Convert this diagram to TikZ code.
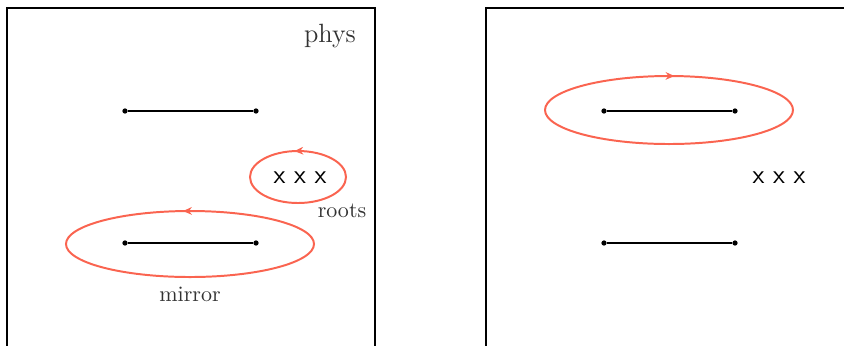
\documentclass[tikz,border=0pt]{standalone}
\usetikzlibrary{decorations.markings,arrows.meta}
\definecolor{loopred}{RGB}{250,100,80}
\definecolor{txt}{RGB}{50,50,50}
\begin{document}
\begin{tikzpicture}[x=0.4545pt,y=0.4545pt,
  frame/.style={draw,line width=0.6pt},
  seg/.style={draw,line width=0.6pt},
  dotp/.style={circle,fill,inner sep=0pt,minimum size=2.4pt},
  loopl/.style={draw=loopred,line width=0.9pt,postaction={decorate},
    decoration={markings,mark=at position #1 with {\arrow{Stealth[length=4pt,width=3.5pt]}}}},
  loopr/.style={draw=loopred,line width=0.9pt,postaction={decorate},
    decoration={markings,mark=at position #1 with {\arrowreversed{Stealth[length=4pt,width=3.5pt]}}}},
  lbl/.style={text=txt,font=\normalsize,inner sep=0pt},
  roots/.style={font=\large\sffamily,inner sep=0pt},
]
\useasboundingbox (0,0) rectangle (844,-345);
% frames
\draw[frame] (7,-8) rectangle (375,-370);
\draw[frame] (486,-8) rectangle (870,-370);
% left panel
\node[dotp] (a1) at (125,-111) {};
\node[dotp] (a2) at (256,-111) {};
\node[dotp] (b1) at (125,-243) {};
\node[dotp] (b2) at (256,-243) {};
\draw[seg] (a1) -- (a2);
\draw[seg] (b1) -- (b2);
\path[loopl=0.263] (190,-244) ellipse [x radius=124, y radius=33];
\path[loopl=0.265] (298,-177) ellipse [x radius=48, y radius=26];
\node[roots] (r1) at (300,-178) {x x x};
\node[lbl] (lroots) at (342,-211) {roots};
\node[lbl] (lmirror) at (190,-294) {mirror};
\node[lbl,font=\large] (lphys) at (330,-36) {phys};
% right panel
\node[dotp] (c1) at (604,-111) {};
\node[dotp] (c2) at (735,-111) {};
\node[dotp] (d1) at (604,-243) {};
\node[dotp] (d2) at (735,-243) {};
\draw[seg] (c1) -- (c2);
\draw[seg] (d1) -- (d2);
\path[loopr=0.24] (669,-110) ellipse [x radius=124, y radius=34];
\node[roots] (r2) at (779,-178) {x x x};
\end{tikzpicture}
\end{document}
